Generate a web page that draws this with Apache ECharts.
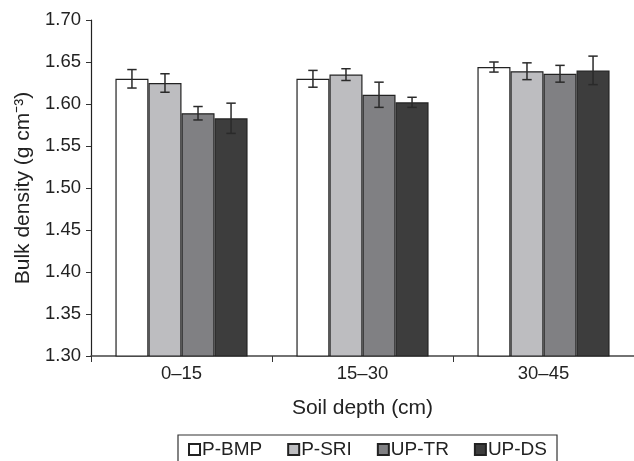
<!DOCTYPE html>
<html>
<head>
<meta charset="utf-8">
<script src="https://cdn.jsdelivr.net/npm/echarts@6/dist/echarts.min.js"></script>
<style>
  html, body { margin: 0; padding: 0; background: #fff; }
  #chart { width: 634px; height: 461px; }
</style>
</head>
<body>
<div id="chart"></div>
<script>
// soil depth classes
var depths = ['0–15', '15–30', '30–45']
var treatments = ['P-BMP', 'P-SRI', 'UP-TR', 'UP-DS']

// bulk density means (g cm-3), one array per treatment
var pBMP = [1.630, 1.630, 1.644]
var pSRI = [1.625, 1.635, 1.639]
var upTR = [1.589, 1.611, 1.636]
var upDS = [1.583, 1.602, 1.640]

// error bar half-lengths
var pBMPErr = [0.011, 0.010, 0.006]
var pSRIErr = [0.011, 0.007, 0.010]
var upTRErr = [0.008, 0.015, 0.010]
var upDSErr = [0.018, 0.006, 0.017]

var yTicks = ['1.30', '1.35', '1.40', '1.45', '1.50', '1.55', '1.60', '1.65', '1.70']

var means = [pBMP, pSRI, upTR, upDS]
var errs = [pBMPErr, pSRIErr, upTRErr, upDSErr]
var colors = ['#ffffff', '#bdbdc0', '#808083', '#3d3d3d']

var chartDom = document.getElementById('chart')
var myChart = echarts.init(chartDom)

var gapRatio = 0.27 // barCategoryGap

var series = []
treatments.forEach(function (name, i) {
    series.push({
        name: name,
        type: 'bar',
        barGap: 0,
        barCategoryGap: '27%',
        data: means[i],
        itemStyle: { color: colors[i], borderColor: '#222', borderWidth: 1.2 }
    })
})

// error bars drawn on top of the bars
treatments.forEach(function (name, i) {
    var errData = depths.map(function (d, j) {
        return [j, means[i][j] - errs[i][j], means[i][j] + errs[i][j]]
    })
    series.push({
        type: 'custom',
        name: name + '-err',
        z: 10,
        silent: true,
        data: errData,
        encode: { x: 0, y: [1, 2] },
        renderItem: function (params, api) {
            var catW = api.size([1, 0])[0]
            var barW = catW * (1 - gapRatio) / treatments.length
            var offset = -catW * (1 - gapRatio) / 2 + barW * (i + 0.5)
            var lo = api.coord([api.value(0), api.value(1)])
            var hi = api.coord([api.value(0), api.value(2)])
            var x = lo[0] + offset
            var cap = 4.7
            var st = { stroke: '#2a2a2a', lineWidth: 1.5 }
            return {
                type: 'group',
                children: [
                    { type: 'line', shape: { x1: x, y1: hi[1], x2: x, y2: lo[1] }, style: st },
                    { type: 'line', shape: { x1: x - cap, y1: hi[1], x2: x + cap, y2: hi[1] }, style: st },
                    { type: 'line', shape: { x1: x - cap, y1: lo[1], x2: x + cap, y2: lo[1] }, style: st }
                ]
            }
        }
    })
})

var option = {
    animation: false,
    textStyle: { fontFamily: 'Liberation Sans, Arial, sans-serif' },
    grid: { left: 91, right: -5, top: 20, bottom: 105 },
    legend: {
        data: treatments,
        top: 435,
        left: 178,
        borderColor: '#333',
        borderWidth: 1.2,
        borderRadius: 0,
        padding: [5, 10, 5, 10],
        itemGap: 25,
        itemWidth: 11,
        itemHeight: 11,
        icon: 'rect',
        textStyle: { fontSize: 19, color: '#222', padding: [0, 0, 0, -3] }
    },
    xAxis: {
        type: 'category',
        data: depths,
        name: 'Soil depth (cm)',
        nameLocation: 'middle',
        nameGap: 42,
        nameTextStyle: { fontSize: 21, color: '#222' },
        axisLine: { lineStyle: { color: '#444', width: 1.5 } },
        axisTick: { show: true, length: 6, lineStyle: { color: '#333' } },
        axisLabel: { fontSize: 18.5, color: '#222', margin: 8 }
    },
    yAxis: {
        type: 'value',
        min: 1.30,
        max: 1.70,
        interval: 0.05,
        name: 'Bulk density (g cm⁻³)',
        nameLocation: 'middle',
        nameGap: 57,
        nameTextStyle: { fontSize: 21, color: '#222' },
        axisLine: { show: true, lineStyle: { color: '#222', width: 1.2 } },
        axisTick: { show: true, length: 5, lineStyle: { color: '#333' } },
        splitLine: { show: false },
        axisLabel: {
            fontSize: 18.5,
            color: '#222',
            margin: 10,
            formatter: function (v) {
                var idx = Math.round((v - 1.30) / 0.05)
                return yTicks[idx]
            }
        }
    },
    series: series
}

myChart.setOption(option)
</script>
</body>
</html>
